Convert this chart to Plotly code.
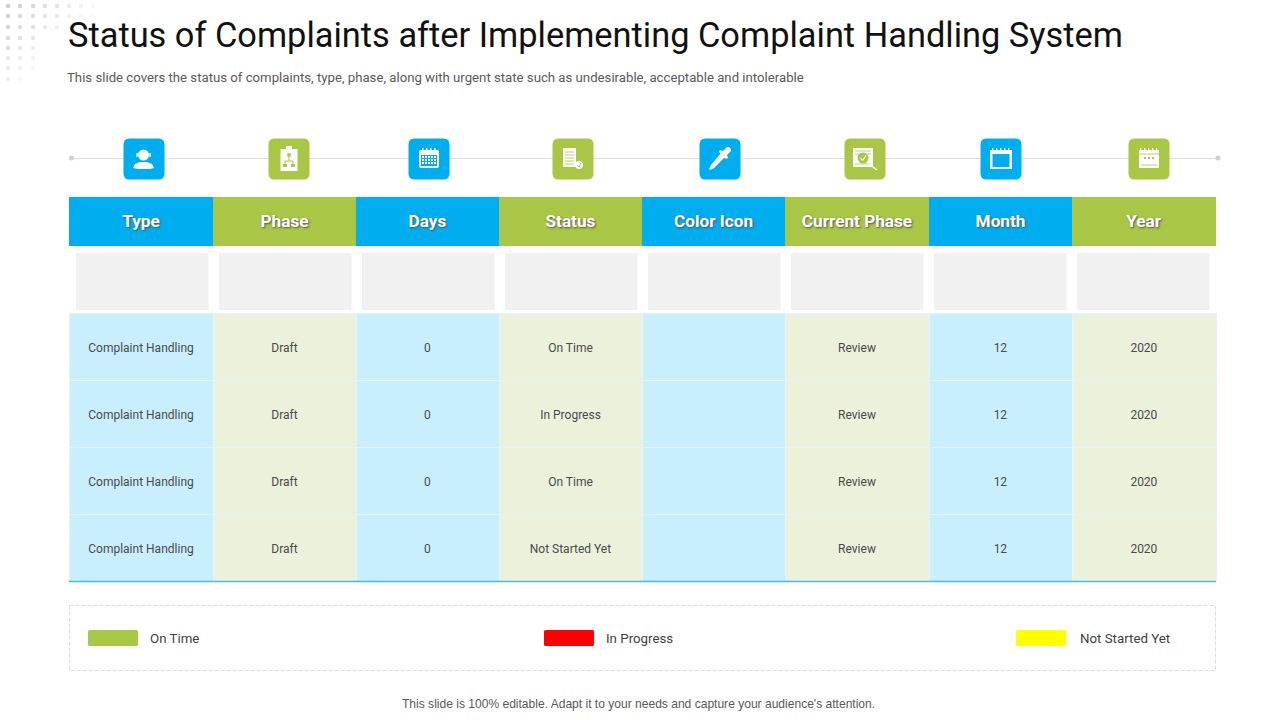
import plotly.graph_objects as go

TITLE = "Status of Complaints after Implementing Complaint Handling System"
SUBTITLE = "This slide covers the status of complaints, type, phase, along with urgent state such as undesirable, acceptable and intolerable"
FOOTER = "This slide is 100% editable. Adapt it to your needs and capture your audience's attention."
columns = ["Type", "Phase", "Days", "Status", "Color Icon", "Current Phase", "Month", "Year"]
types = ["Complaint Handling"] * 4
phases = ["Draft"] * 4
days = ["0", "0", "0", "0"]
statuses = ["On Time", "In Progress", "On Time", "Not Started Yet"]
color_icons = ["", "", "", ""]
current = ["Review"] * 4
months = ["12"] * 4
years = ["2020"] * 4
legend_names = ["On Time", "In Progress", "Not Started Yet"]
legend_colors = ["#A9C846", "#FF0000", "#FFFF00"]
legend_x = [88, 544, 1016]
legend_text_x = [150, 606, 1080]
icon_x = [144, 289, 429, 573, 720, 865, 1001, 1149]
col_widths = [144, 143, 143, 143, 143, 144, 143, 144]

BLUE, GREEN, LBLUE, LGREEN = "#00ADEF", "#A9C646", "#C9EFFF", "#ECF1DC"
hdr_fill = [BLUE, GREEN] * 4
cell_fill = [LBLUE, LGREEN] * 4
FONT = "Roboto"
X0, X1 = 69, 1216


def dom(y0, y1):
    return [1 - y1 / 720, 1 - y0 / 720]


def lowered(values, size, bold=False):
    out = []
    for v in values:
        if v == "":
            out.append("")
            continue
        t = f"<b>{v}</b>" if bold else v
        out.append(f' <br><span style="font-size:{size}px">{t}</span>')
    return out


fig = go.Figure()
fig.add_trace(go.Table(
    domain=dict(x=[X0 / 1280, X1 / 1280], y=dom(197, 246.5)),
    columnwidth=col_widths,
    header=dict(values=lowered(columns, 17.2, True), height=49.5, align="center",
                fill_color=hdr_fill, line=dict(width=0, color="white"),
                font=dict(family=FONT, size=10, color="white",
                          shadow="1px 1px 2px #555555")),
    cells=dict(values=[[]] * 8),
    hoverinfo="skip"))
fig.add_trace(go.Table(
    domain=dict(x=[X0 / 1280, X1 / 1280], y=dom(246, 582)),
    columnwidth=col_widths,
    header=dict(values=[" "] * 8, height=67, fill_color="white", line=dict(width=0, color="white")),
    cells=dict(values=[lowered(c, 12) for c in [types, phases, days, statuses, color_icons, current, months, years]],
               height=67, align="center", fill_color=cell_fill,
               line=dict(color="#E4F4FA", width=1),
               font=dict(family=FONT, size=13.9, color="#4A4A4A")),
    hoverinfo="skip"))

shapes = []
def rect(x0, y0, x1, y1, fill, line=None, lw=0, dash=None):
    shapes.append(dict(type="rect", x0=x0, y0=y0, x1=x1, y1=y1, fillcolor=fill,
                       line=dict(color=line or fill, width=lw, dash=dash), layer="above"))
def rrect(x0, y0, x1, y1, r, fill, line=None, lw=0):
    p = (f"M{x0+r},{y0} L{x1-r},{y0} Q{x1},{y0} {x1},{y0+r} L{x1},{y1-r} Q{x1},{y1} {x1-r},{y1} "
         f"L{x0+r},{y1} Q{x0},{y1} {x0},{y1-r} L{x0},{y0+r} Q{x0},{y0} {x0+r},{y0} Z")
    shapes.append(dict(type="path", path=p, fillcolor=fill, line=dict(color=line or fill, width=lw), layer="above"))
def circ(cx, cy, r, fill):
    shapes.append(dict(type="circle", x0=cx-r, y0=cy-r, x1=cx+r, y1=cy+r, fillcolor=fill,
                       line=dict(width=0), layer="above"))
def poly(pts, fill, line=None, lw=0):
    p = "M" + " L".join(f"{a},{b}" for a, b in pts) + " Z"
    shapes.append(dict(type="path", path=p, fillcolor=fill, line=dict(color=line or fill, width=lw), layer="above"))
def seg(x0, y0, x1, y1, color, w):
    shapes.append(dict(type="line", x0=x0, y0=y0, x1=x1, y1=y1, line=dict(color=color, width=w), layer="above"))

seg(72, 158.5, 1218, 158.5, "#DDDDDD", 1)
circ(71.5, 158, 2.5, "#D0D0D0")
circ(1218, 158, 2.5, "#D0D0D0")

for i in range(8):
    left = X0 + i * 143
    rect(left + 7, 253, left + 139.5, 310, "#F1F1F1")
seg(X0, 581.5, X1, 581.5, "#4DB9DC", 1.3)
shapes.append(dict(type="rect", x0=69.5, y0=605.5, x1=1215.5, y1=670.5, fillcolor="rgba(0,0,0,0)",
                   line=dict(color="#D4D4D4", width=0.8, dash="4px,2px"), layer="above"))
for x, c in zip(legend_x, legend_colors):
    rrect(x, 630, x + 50, 646, 1.5, c)

for i, x in enumerate(icon_x):
    rrect(x - 20.5, 138.5, x + 20.5, 179.5, 6, BLUE if i % 2 == 0 else GREEN)
W = "white"
# person with headset
x = icon_x[0]
circ(x - 0.5, 155, 5.5, W)
poly([(x-11,168),(x-9,164),(x-4,162),(x+3,162),(x+8,164),(x+10,168),(x+6,169),(x-6,169)], W)
seg(x-7, 153, x-7, 157, W, 1.4); seg(x+6, 153, x+6, 157, W, 1.4)
x = icon_x[1]
rect(x-8.5, 149, x+8.5, 171, W)
rect(x-3, 146, x+3, 150, W)
circ(x, 155, 2, GREEN); rect(x-6, 164, x-2, 167, GREEN); rect(x+2, 164, x+6, 167, GREEN)
seg(x, 157, x, 161, GREEN, 1); seg(x-4, 161, x+4, 161, GREEN, 1)
seg(x-4, 161, x-4, 164, GREEN, 1); seg(x+4, 161, x+4, 164, GREEN, 1)
x = icon_x[2]
rrect(x-10, 150, x+10, 168, 2, W)
rect(x-8, 155, x+8, 166, BLUE)
for gx in [-6, -3, 0, 3, 6]:
    for gy in [157, 160, 163]:
        rect(x+gx-1, gy-1, x+gx+1, gy+1, W)
for gx in [-7, -3, 1, 5]:
    rect(x+gx, 148, x+gx+1.5, 152, W)
x = icon_x[3]
rect(x-10, 148, x+3, 167, W)
for gy in [152, 155, 158, 161, 164]:
    seg(x-8, gy, x+1, gy, GREEN, 0.8)
circ(x+6, 165, 4, W)
seg(x+4, 165, x+6, 167, GREEN, 1); seg(x+6, 167, x+8, 163, GREEN, 1)
x = icon_x[4]
poly([(x+1,153),(x+5,157),(x-6,168),(x-10,170),(x-11,169),(x-9,165)], W)
poly([(x+3,151),(x+7,147),(x+9,147),(x+11,149),(x+11,151),(x+7,155),(x+8,158),(x+6,159),(x-1,152),(x,150)], W)
x = icon_x[5]
rect(x-12, 148, x+8, 167, W)
for gy in [151, 154, 164]:
    seg(x-10, gy, x+6, gy, GREEN, 0.8)
circ(x-2, 158, 5.5, GREEN)
seg(x-4.5, 158, x-2.5, 160.5, W, 1.2); seg(x-2.5, 160.5, x+1, 155.5, W, 1.2)
seg(x+4, 164, x+12, 170, W, 1.5)
x = icon_x[6]
rect(x-11, 150, x+11, 169, W)
rect(x-8.5, 154, x+8.5, 167, BLUE)
for gx in [-9, -5, -1, 3, 7]:
    rect(x+gx, 148, x+gx+1.3, 151, W)
x = icon_x[7]
rect(x-10, 150, x+10, 168, W)
for gx in [-9, -5, -1, 3, 7]:
    rect(x+gx, 148, x+gx+1.3, 151, W)
seg(x-10, 154, x+10, 154, GREEN, 0.8)
seg(x-8, 165, x+8, 165, GREEN, 0.8)
for gx, gy in [(-4, 158), (0, 158), (4, 158)]:
    rect(x+gx-1, gy-1, x+gx+1, gy+1, GREEN)

dot_cols = [8, 20, 33, 45, 57, 69, 81, 93]
dot_rows = [6, 16, 27, 38, 48, 58, 68, 79]
dot_counts = [8, 8, 5, 3, 3, 3, 3, 2]
dx, dy, dc = [], [], []
for r, (yy, n) in enumerate(zip(dot_rows, dot_counts)):
    for c in range(n):
        dx.append(dot_cols[c]); dy.append(yy)
        v = 205 + min(45, c * 6 + r * 5)
        dc.append(f"rgb({v},{v},{v})")
fig.add_trace(go.Scatter(x=dx, y=dy, mode="markers", hoverinfo="skip",
                         marker=dict(size=4.5, color=dc, line=dict(width=0))))

def text(x, y, s, size, color, anchor="left", family=FONT):
    fig.add_annotation(x=x, y=y, text=s, showarrow=False, xanchor=anchor, yanchor="middle",
                       font=dict(family=family, size=size, color=color), xref="x", yref="y")

text(66, 35, TITLE, 34.4, "#111111")
text(65, 77, SUBTITLE, 13.2, "#595959")
text(638.5, 704, FOOTER, 12.05, "#595959", "center", "Liberation Sans")
for x, s in zip(legend_text_x, legend_names):
    text(x - 2, 638, s, 13.3, "#404040")

fig.update_layout(
    width=1280, height=720, margin=dict(l=0, r=0, t=0, b=0), showlegend=False,
    paper_bgcolor="white", plot_bgcolor="rgba(0,0,0,0)", shapes=shapes,
    xaxis=dict(range=[0, 1280], visible=False, fixedrange=True),
    yaxis=dict(range=[720, 0], visible=False, fixedrange=True),
)
fig.write_html("out.html", config=dict(displayModeBar=False),
               post_script="document.body.style.margin='0';document.documentElement.style.overflow='hidden';")
